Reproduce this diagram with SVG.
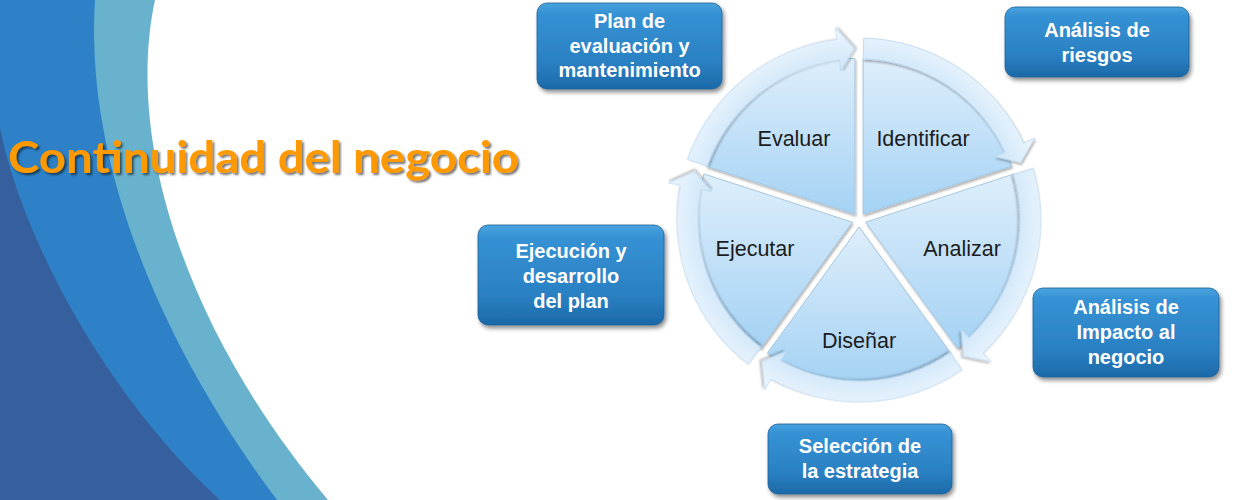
<svg xmlns="http://www.w3.org/2000/svg" xmlns:xlink="http://www.w3.org/1999/xlink" width="1250" height="500" viewBox="0 0 1250 500">
  <defs>
    <style>
      .box rect { fill: url(#boxGrad); stroke: #1c5f97; stroke-width: 0.8; filter: url(#boxShadow); }
      .box text { font-family: "Liberation Sans", Arial, sans-serif; font-weight: bold; font-size: 20px; fill: #ffffff; text-anchor: middle; }
      .sector path { fill: url(#sectorGrad); stroke: #a6c6e0; stroke-width: 1; filter: url(#softShadow); }
      .sector text { font-family: "Liberation Sans", Arial, sans-serif; font-size: 21.5px; fill: #1c1c1c; text-anchor: middle; }
      .arrow { fill: url(#ringGrad); stroke: #bcd6ec; stroke-width: 0.8; filter: url(#softShadow); }
      .title { font-family: Lato, "Open Sans", sans-serif; font-weight: bold; font-size: 44px; fill: #ff9900; filter: url(#titleShadow); }
    </style>
    <linearGradient id="boxGrad" x1="0" y1="0" x2="0" y2="1">
      <stop offset="0" stop-color="#4aa3de"/>
      <stop offset="0.12" stop-color="#3592d4"/>
      <stop offset="0.7" stop-color="#2a80c2"/>
      <stop offset="1" stop-color="#1c69a8"/>
    </linearGradient>
    <linearGradient id="sectorGrad" x1="0" y1="0" x2="0" y2="1">
      <stop offset="0" stop-color="#deeefb"/>
      <stop offset="1" stop-color="#a4d2f4"/>
    </linearGradient>
    <radialGradient id="ringGrad" gradientUnits="userSpaceOnUse" cx="859" cy="220" r="194">
      <stop offset="0.76" stop-color="#c9e3f8"/>
      <stop offset="0.88" stop-color="#dcedfb"/>
      <stop offset="1" stop-color="#eef7fe"/>
    </radialGradient>
    <filter id="boxShadow" x="-10%" y="-10%" width="125%" height="135%">
      <feGaussianBlur in="SourceAlpha" stdDeviation="2"/>
      <feOffset dx="2" dy="3" result="b"/>
      <feComponentTransfer><feFuncA type="linear" slope="0.45"/></feComponentTransfer>
      <feMerge><feMergeNode/><feMergeNode in="SourceGraphic"/></feMerge>
    </filter>
    <filter id="softShadow" x="-10%" y="-10%" width="125%" height="125%">
      <feGaussianBlur in="SourceAlpha" stdDeviation="1.2"/>
      <feOffset dx="1" dy="1.5" result="b"/>
      <feComponentTransfer><feFuncA type="linear" slope="0.3"/></feComponentTransfer>
      <feMerge><feMergeNode/><feMergeNode in="SourceGraphic"/></feMerge>
    </filter>
    <filter id="titleShadow" x="-5%" y="-20%" width="110%" height="150%">
      <feGaussianBlur in="SourceAlpha" stdDeviation="0.8"/>
      <feOffset dx="2" dy="2" result="b"/>
      <feComponentTransfer><feFuncA type="linear" slope="0.55"/></feComponentTransfer>
      <feMerge><feMergeNode/><feMergeNode in="SourceGraphic"/></feMerge>
    </filter>
    <path id="arrowShape" class="arrow" d="M863.76,38.06 A182,182 0 0 1 1023.95,143.08 L1034.82,138.01 L1020.66,162.75 L994.95,156.61 L1004.92,151.96 A161,161 0 0 0 863.21,59.06 Z"/>
  </defs>

  <rect x="0" y="0" width="1250" height="500" fill="#ffffff"/>

  <g id="background">
    <path d="M0,0 L155,0 C125,140 185,330 328,500 L0,500 Z" fill="#68b2ce"/>
    <path d="M0,0 L95,0 C85,150 150,330 277,500 L0,500 Z" fill="#2e81c7"/>
    <path d="M0,128 C20,230 100,390 220,500 L0,500 Z" fill="#365f9e"/>
  </g>

  <text id="title" class="title" x="8" y="173" textLength="511" lengthAdjust="spacingAndGlyphs">Continuidad del negocio</text>

  <g id="cycle">
    <g id="sector-identificar" class="sector">
      <path d="M863.11,214.34 L863.11,58.34 A156,156 0 0 1 1011.48,166.13 Z"/>
      <text x="923" y="146">Identificar</text>
    </g>
    <g id="sector-analizar" class="sector">
      <path d="M865.66,222.16 L1014.03,173.95 A156,156 0 0 1 957.36,348.37 Z"/>
      <text x="962" y="256">Analizar</text>
    </g>
    <g id="sector-disenar" class="sector">
      <path d="M859,227 L950.70,353.21 A156,156 0 0 1 767.30,353.21 Z"/>
      <text x="859" y="348">Diseñar</text>
    </g>
    <g id="sector-ejecutar" class="sector">
      <path d="M852.34,222.16 L760.64,348.37 A156,156 0 0 1 703.97,173.95 Z"/>
      <text x="755" y="256">Ejecutar</text>
    </g>
    <g id="sector-evaluar" class="sector">
      <path d="M854.89,214.34 L706.52,166.13 A156,156 0 0 1 854.89,58.34 Z"/>
      <text x="794" y="146">Evaluar</text>
    </g>
  </g>

  <g id="connectors">
    <use xlink:href="#arrowShape"/>
    <use xlink:href="#arrowShape" transform="rotate(72 859 220)"/>
    <use xlink:href="#arrowShape" transform="rotate(144 859 220)"/>
    <use xlink:href="#arrowShape" transform="rotate(216 859 220)"/>
    <use xlink:href="#arrowShape" transform="rotate(288 859 220)"/>
  </g>

  <g id="box-plan" class="box">
    <rect x="537" y="3" width="185" height="86" rx="10"/>
    <text x="629.5" y="28">Plan de</text>
    <text x="629.5" y="53">evaluación y</text>
    <text x="629.5" y="77">mantenimiento</text>
  </g>
  <g id="box-riesgos" class="box">
    <rect x="1005" y="7" width="184" height="70" rx="10"/>
    <text x="1097" y="37">Análisis de</text>
    <text x="1097" y="62">riesgos</text>
  </g>
  <g id="box-ejecucion" class="box">
    <rect x="478" y="225" width="186" height="100" rx="10"/>
    <text x="571" y="258">Ejecución y</text>
    <text x="571" y="283">desarrollo</text>
    <text x="571" y="308">del plan</text>
  </g>
  <g id="box-impacto" class="box">
    <rect x="1033" y="288" width="186" height="89" rx="10"/>
    <text x="1126" y="314">Análisis de</text>
    <text x="1126" y="339">Impacto al</text>
    <text x="1126" y="364">negocio</text>
  </g>
  <g id="box-seleccion" class="box">
    <rect x="768" y="424" width="184" height="70" rx="10"/>
    <text x="860" y="453">Selección de</text>
    <text x="860" y="478">la estrategia</text>
  </g>
</svg>
